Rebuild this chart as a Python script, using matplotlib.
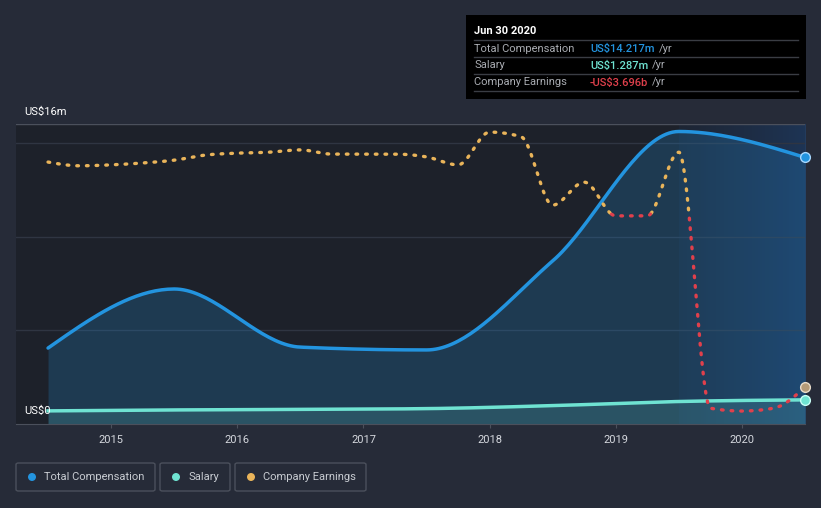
import numpy as np
import matplotlib
matplotlib.use("Agg")
import matplotlib.pyplot as plt
from matplotlib.patches import FancyBboxPatch, Ellipse, Rectangle
from matplotlib.lines import Line2D

plt.rcParams['font.family'] = ['Roboto', 'DejaVu Sans']

# yearly compensation (US$ m), Jun 30 of each year
years = [2014.5, 2015.5, 2016.5, 2017.5, 2018.5, 2019.5, 2020.5]
total_comp = [4.05, 7.2, 4.1, 3.95, 8.7, 15.6, 14.217]
salary = [0.70, 0.75, 0.78, 0.82, 0.98, 1.20, 1.287]

# company earnings (US$ b), quarterly
earn_x = [2014.5, 2014.75, 2015.0, 2015.25, 2015.5, 2015.75, 2016.0, 2016.25,
          2016.5, 2016.75, 2017.0, 2017.25, 2017.5, 2017.75, 2018.0, 2018.25,
          2018.5, 2018.75, 2019.0, 2019.25, 2019.5, 2019.75, 2020.0, 2020.25, 2020.5]
earnings = [1.11, 1.03, 1.05, 1.09, 1.15, 1.26, 1.30, 1.32,
            1.37, 1.28, 1.28, 1.28, 1.22, 1.05, 1.75, 1.65,
            0.19, 0.68, -0.04, -0.04, 1.32, -4.15, -4.21, -4.15, -3.696]

tick_years = [2015, 2016, 2017, 2018, 2019, 2020]

BG = '#262b38'
PLOT_BG = '#1d212a'
BLUE = '#2394df'
TEAL = '#6fe3d2'
GOLD = '#e9b45a'
RED = '#e0404c'


def monotone(xs, ys, n=40):
    # monotone cubic (same idea as d3 curveMonotoneX)
    xs = np.asarray(xs, float)
    ys = np.asarray(ys, float)
    h = np.diff(xs)
    s = np.diff(ys) / h
    m = np.zeros(len(xs))
    for i in range(1, len(xs) - 1):
        p = (s[i - 1] * h[i] + s[i] * h[i - 1]) / (h[i - 1] + h[i])
        m[i] = (np.sign(s[i - 1]) + np.sign(s[i])) * min(abs(s[i - 1]), abs(s[i]), 0.5 * abs(p))
    m[0] = (3 * s[0] - m[1]) / 2
    m[-1] = (3 * s[-1] - m[-2]) / 2
    ox, oy = [], []
    for i in range(len(xs) - 1):
        t = np.linspace(0, 1, n, endpoint=(i == len(xs) - 2))
        h00 = 2 * t**3 - 3 * t**2 + 1
        h10 = t**3 - 2 * t**2 + t
        h01 = -2 * t**3 + 3 * t**2
        h11 = t**3 - t**2
        ox.append(xs[i] + t * h[i])
        oy.append(h00 * ys[i] + h10 * h[i] * m[i] + h01 * ys[i + 1] + h11 * h[i] * m[i + 1])
    return np.concatenate(ox), np.concatenate(oy)


fig = plt.figure(figsize=(8.21, 5.08), dpi=100, facecolor=BG)
W, H = 821, 508
ax = fig.add_axes([16 / W, 1 - 424 / H, (805 - 16) / W, 300 / H])
ax.set_facecolor(PLOT_BG)
ax.set_xlim(2014.246, 2020.5)
ax.set_ylim(0, 16)

# highlighted last year
grad = np.linspace(0, 1, 100).reshape(1, -1)
cmap = matplotlib.colors.LinearSegmentedColormap.from_list(
    'hl', [(0.12, 0.30, 0.55, 0.10), (0.12, 0.35, 0.65, 0.35)])
ax.imshow(grad, extent=[2019.5, 2020.5, 0, 16], aspect='auto', cmap=cmap, zorder=0.5)

for g in [5, 10, 15]:
    ax.axhline(g, color='#2f3542', lw=1, zorder=1)
ax.axhline(16, color='#4b505c', lw=1, zorder=1)

cx, cy = monotone(years, total_comp)
ax.fill_between(cx, 0, cy, color=BLUE, alpha=0.22, lw=0, zorder=2)
ax.plot(cx, cy, color=BLUE, lw=2.5, zorder=4, solid_capstyle='round')

sx, sy = monotone(years, salary)
ax.fill_between(sx, 0, sy, color=TEAL, alpha=0.15, lw=0, zorder=2)
ax.plot(sx, sy, color=TEAL, lw=2.5, zorder=4)

ax.plot(years[-1], total_comp[-1], 'o', ms=7, color=BLUE, mec='#a8d8ff', mew=1, zorder=6, clip_on=False)
ax.plot(years[-1], salary[-1], 'o', ms=7, color=TEAL, mec='#c8fff6', mew=1, zorder=6, clip_on=False)

# earnings on their own hidden scale
ax2 = ax.twinx()
ax2.set_ylim(-4.487, 1.923)
ax2.axis('off')
ex, ey = monotone(earn_x, earnings, n=60)
pos = np.where(ey >= 0, ey, np.nan)
neg = np.where(ey < 0, ey, np.nan)
dots = dict(lw=2.4, linestyle=(0, (0.5, 2.4)), dash_capstyle='round', zorder=5)
ax2.plot(ex, pos, color=GOLD, **dots)
ax2.plot(ex, neg, color=RED, **dots)
ax2.plot(earn_x[-1], earnings[-1], 'o', ms=7, color='#b59b78', mec='#e8dccb', mew=1, zorder=6, clip_on=False)

for sp in ['top', 'left', 'right']:
    ax.spines[sp].set_visible(False)
ax.spines['bottom'].set_color('#4b505c')
ax.set_yticks([])
ax.set_xticks(tick_years)
ax.set_xticklabels([str(y) for y in tick_years])
ax.tick_params(axis='x', colors='#4b505c', length=3, labelcolor='#d5d8de', labelsize=8, pad=5)

fig.text(24 / W, 1 - 112 / H, 'US$16m', color='white', fontsize=8, va='center')
fig.text(24 / W, 1 - 411 / H, 'US$0', color='white', fontsize=8, va='center')

# tooltip
fig.patches.append(Rectangle((466 / W, 1 - 99 / H), 340 / W, 84 / H, transform=fig.transFigure,
                             facecolor='black', edgecolor='none'))
fig.text(474 / W, 1 - 31 / H, 'Jun 30 2020', color='white', fontsize=8, fontweight='bold', va='center')
for yy in [40, 57, 74, 91]:
    fig.add_artist(Line2D([474 / W, 798 / W], [1 - yy / H] * 2, color='#3a3d44', lw=1))
rows = [('Total Compensation', 'US$14.217m', BLUE),
        ('Salary', 'US$1.287m', TEAL),
        ('Company Earnings', '-US$3.696b', RED)]
renderer = fig.canvas.get_renderer()
for i, (lab, val, col) in enumerate(rows):
    yy = 1 - (48.5 + 17 * i) / H
    fig.text(474 / W, yy, lab, color='#a9acb2', fontsize=8, va='center')
    t = fig.text(590 / W, yy, val, color=col, fontsize=8, fontweight='medium', va='center')
    x_end = t.get_window_extent(renderer).x1
    fig.text((x_end + 4) / W, yy, '/yr', color='#a9acb2', fontsize=8, va='center')

# legend
legend = [('Total Compensation', BLUE, 16, 155),
          ('Salary', TEAL, 160, 230),
          ('Company Earnings', GOLD, 235, 366)]
for lab, col, x0, x1 in legend:
    fig.patches.append(FancyBboxPatch((x0 / W, 1 - 491 / H), (x1 - x0) / W, 28 / H,
                                      boxstyle='round,pad=0,rounding_size=0.003',
                                      transform=fig.transFigure, facecolor='none',
                                      edgecolor='#4b505c', lw=1))
    fig.patches.append(Ellipse(((x0 + 16) / W, 1 - 477 / H), 8 / W, 8 / H, transform=fig.transFigure,
                               facecolor=col, edgecolor='none'))
    fig.text((x0 + 28) / W, 1 - 477 / H, lab, color='#c8ccd2', fontsize=8, va='center')

fig.savefig('out.png', dpi=100, facecolor=BG)
